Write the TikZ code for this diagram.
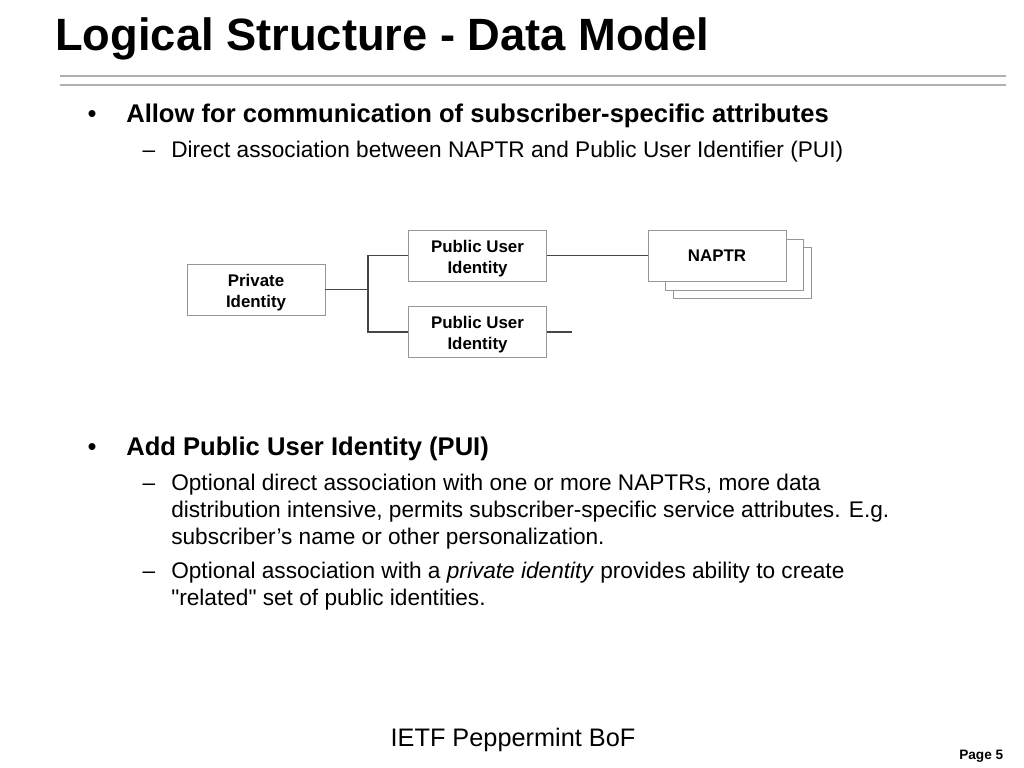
\documentclass[tikz,border=0pt]{standalone}
\usepackage{fontspec}
\setmainfont{Liberation Sans}
\usetikzlibrary{positioning}

\definecolor{rulegray}{RGB}{175,175,175}
\definecolor{boxgray}{RGB}{150,150,150}
\definecolor{linkgray}{RGB}{70,70,70}

\newcommand{\lowr}[1]{\raisebox{-2pt}[\height][\depth]{#1}}

\tikzset{
  txt/.style={anchor=base west, inner sep=0pt, font=\fontsize{16.1}{19}\selectfont},
  head/.style={anchor=base west, inner sep=0pt, font=\fontsize{18.2}{22}\selectfont\bfseries},
  idbox/.style={draw=boxgray, fill=white, line width=0.6pt, minimum width=3.45cm, minimum height=1.275cm,
    align=center, inner sep=0pt, font=\fontsize{12}{15}\selectfont\bfseries},
  link/.style={draw=linkgray, line width=1.1pt},
}

\begin{document}
\begin{tikzpicture}[x=0.025cm, y=-0.025cm]

    \useasboundingbox (0,0) rectangle (1024,768);

    % Title and rules
    \node[anchor=base west, inner sep=0pt, font=\fontsize{32.2}{38}\selectfont\bfseries] (title) at (55,51) {Logical Structure - Data Model};
    \draw[rulegray, line width=0.8pt] (60,76) -- (1006,76);
    \draw[rulegray, line width=0.8pt] (60,85) -- (1006,85);

    % First bullet
    \node[head, anchor=base, font=\fontsize{18.2}{22}\selectfont] (bul1) at (92,123) {\textbullet};
    \node[head] (allow) at (126,123) {Allow for communication of subscriber-specific attributes};
    \node[txt, anchor=base] (dash1) at (149,158) {--};
    \node[txt] (direct) at (171,158) {Direct association between NAPTR and Public User Identifier (PUI)};

    % Boxes
    \node[idbox] (naptrc) at (742,272.5) {};
    \node[idbox] (naptrb) at (734,264.5) {};
    \node[idbox] (naptr) at (717,255.5) {NAPTR};
    \node[idbox] (priv) at (256,289.5) {\lowr{Private}\\\lowr{Identity}};
    \node[idbox] (pub1) at (477.5,255.5) {\lowr{Public User}\\\lowr{Identity}};
    \node[idbox] (pub2) at (477.5,332) {\lowr{Public User}\\\lowr{Identity}};

    % Links
    \coordinate (jn) at (368,289.5);
    \coordinate (stub) at (572,332);
    \draw[link] (priv.east) -- (jn);
    \draw[link] (pub1.west) -| (jn) |- (pub2.west);
    \draw[link] (pub1.east) -- (naptr.west);
    \draw[link] (pub2.east) -- (stub);

    % Second bullet
    \node[head, anchor=base, font=\fontsize{18.2}{22}\selectfont] (bul2) at (92,455) {\textbullet};
    \node[head] (addpui) at (126,455) {Add Public User Identity (PUI)};
    \node[txt, anchor=base] (dash2) at (149,490) {--};
    \node[txt] (opt1a) at (171,490) {Optional direct association with one or more NAPTRs, more data};
    \node[txt] (opt1b) at (171,517) {distribution intensive, permits subscriber-specific service attributes. E.g.};
    \node[txt] (opt1c) at (171,544) {subscriber’s name or other personalization.};
    \node[txt, anchor=base] (dash3) at (149,578) {--};
    \node[txt] (opt2a) at (171,578) {Optional association with a \textit{private identity} provides ability to create};
    \node[txt] (opt2b) at (171,605) {\textquotedbl related\textquotedbl{} set of public identities.};

    % Footer
    \node[anchor=base, inner sep=0pt, font=\fontsize{18}{22}\selectfont] (footer) at (513,746) {IETF Peppermint BoF};
    \node[anchor=base west, inner sep=0pt, font=\fontsize{9.7}{12}\selectfont\bfseries] (page) at (959,759) {Page 5};

\end{tikzpicture}
\end{document}
